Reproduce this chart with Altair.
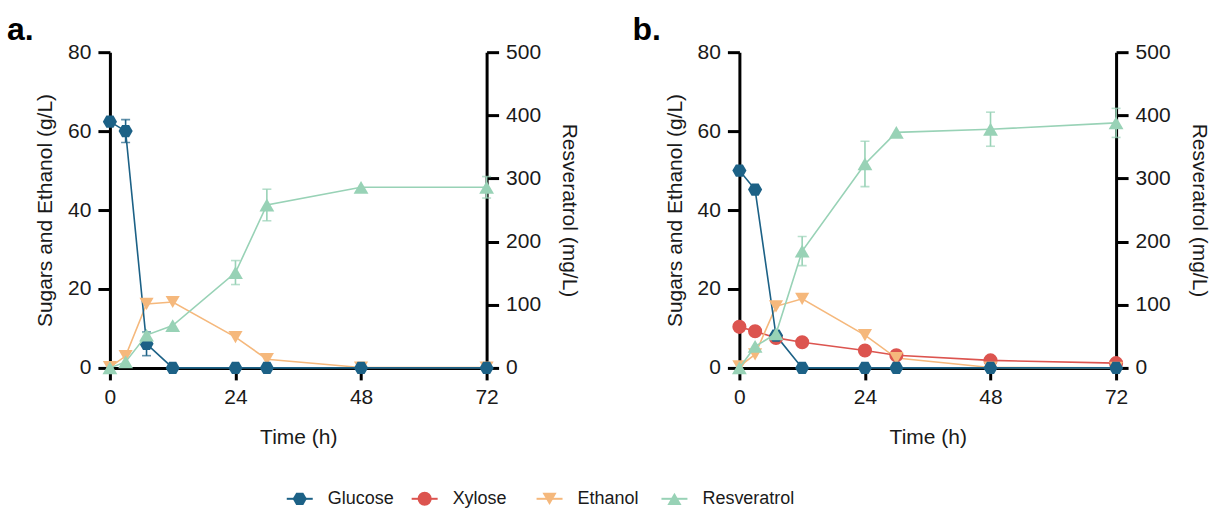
import altair as alt
import pandas as pd

time_h = [0, 3, 7, 12, 24, 30, 48, 72]
series_names = ["Glucose", "Xylose", "Ethanol", "Resveratrol"]
series_colors = ["#1c6186", "#dc544f", "#f5b87c", "#98d2b6"]
HEX = "M-1,0L-0.5,-0.866L0.5,-0.866L1,0L0.5,0.866L-0.5,0.866Z"
series_shapes = [HEX, "circle", "triangle-down", "triangle-up"]

# Panel a
glucose_a = [62.4, 60.0, 6.1, 0, 0, 0, 0, 0]
glucose_a_err = [0, 2.9, 3.0, 0, 0, 0, 0, 0]
ethanol_a = [0.2, 3.0, 16.2, 16.7, 7.8, 2.2, 0.1, 0.1]
ethanol_a_err = [0, 0, 0, 0, 0, 0, 0, 0]
resv_a = [0, 9.5, 52, 67, 151, 258, 286, 286]
resv_a_err = [0, 0, 4, 0, 19, 25, 0, 17]

# Panel b
glucose_b = [50.0, 45.2, 8.2, 0, 0, 0, 0, 0]
glucose_b_err = [0, 0, 0, 0, 0, 0, 0, 0]
xylose_b = [10.4, 9.3, 7.6, 6.5, 4.4, 3.2, 1.9, 1.2]
xylose_b_err = [0, 0, 0, 0, 0, 0, 0, 0]
ethanol_b = [0.4, 3.4, 15.6, 17.5, 8.3, 2.5, 0.1, 0.0]
ethanol_b_err = [0, 0, 0, 0, 0, 0, 0, 0]
resv_b = [0, 34, 54, 185, 323, 373, 378, 388]
resv_b_err = [0, 0, 0, 23, 36, 0, 27, 23]

FONT = "Liberation Sans"
FS = 21
LEG_FS = 18
W, H = 377, 316


def long_df(pairs):
    rows = []
    for name, vals, errs in pairs:
        for t, v, e in zip(time_h, vals, errs):
            rows.append({"time": t, "series": name, "value": v, "lo": v - e, "hi": v + e, "err": e})
    return pd.DataFrame(rows)


color = alt.Color("series:N", scale=alt.Scale(domain=series_names, range=series_colors), legend=None)
shape = alt.Shape("series:N", scale=alt.Scale(domain=series_names, range=series_shapes), legend=None)
xaxis = alt.Axis(values=[0, 24, 48, 72], title="Time (h)", titlePadding=19, labelFlush=False)
xenc = alt.X("time:Q", scale=alt.Scale(domain=[0, 72], nice=False), axis=xaxis)


def group(df, ydom, axis, size):
    base = alt.Chart(df)
    sc = alt.Scale(domain=ydom, nice=False, zero=True)
    line = base.mark_line(strokeWidth=1.6, clip=False).encode(
        x=xenc, y=alt.Y("value:Q", scale=sc, axis=axis), color=color)
    errs = base.transform_filter("datum.err > 0")
    rule = errs.mark_rule(strokeWidth=1.6).encode(
        x=xenc, y=alt.Y("lo:Q", scale=sc, axis=axis), y2="hi:Q", color=color)
    cap_lo = errs.mark_tick(orient="horizontal", size=9, thickness=1.6).encode(
        x=xenc, y=alt.Y("lo:Q", scale=sc, axis=axis), color=color)
    cap_hi = errs.mark_tick(orient="horizontal", size=9, thickness=1.6).encode(
        x=xenc, y=alt.Y("hi:Q", scale=sc, axis=axis), color=color)
    pts = base.mark_point(filled=True, opacity=1, size=size, clip=False).encode(
        x=xenc, y=alt.Y("value:Q", scale=sc, axis=axis), color=color, shape=shape)
    return alt.layer(line, rule, cap_lo, cap_hi, pts)


def panel(label, dx, sugars, resv, resv_err):
    sdf = long_df(sugars)
    rdf = long_df([("Resveratrol", resv, resv_err)])
    left_axis = alt.Axis(values=[0, 20, 40, 60, 80], title="Sugars and Ethanol (g/L)", orient="left",
                         titlePadding=12)
    right_axis = alt.Axis(values=[0, 100, 200, 300, 400, 500], title="Resveratrol (mg/L)", orient="right",
                          titlePadding=18)
    left = group(sdf, [0, 80], left_axis, 200)
    right = group(rdf, [0, 500], right_axis, 220)
    return alt.layer(left, right).resolve_scale(y="independent").properties(
        width=W, height=H,
        title=alt.TitleParams(label, anchor="start", frame="group", fontSize=32, fontWeight="bold",
                              font=FONT, color="black", dx=dx, offset=-6),
    )


pa = panel("a.", -103, [("Ethanol", ethanol_a, ethanol_a_err), ("Glucose", glucose_a, glucose_a_err)],
           resv_a, resv_a_err)
pb = panel("b.", -107, [("Xylose", xylose_b, xylose_b_err), ("Ethanol", ethanol_b, ethanol_b_err),
                        ("Glucose", glucose_b, glucose_b_err)], resv_b, resv_b_err)

top = alt.hconcat(pa, pb, spacing=52)

leg_df = pd.DataFrame({"series": series_names})
lx = alt.X("series:N", scale=alt.Scale(type="point", domain=series_names, range=[190, 565], padding=0),
           axis=None)
leg_base = alt.Chart(leg_df)
leg_rule = leg_base.mark_rule(strokeWidth=2, xOffset=-13, x2Offset=13).encode(
    x=lx, x2="series:N", y=alt.value(10), color=color)
leg_pts = leg_base.mark_point(filled=True, opacity=1, size=200).encode(
    x=lx, y=alt.value(10), color=color, shape=shape)
leg_txt = leg_base.mark_text(align="left", baseline="middle", dx=28, fontSize=LEG_FS, font=FONT,
                             color="#1a1a1a").encode(x=lx, y=alt.value(10), text="series:N")
legend = alt.layer(leg_rule, leg_pts, leg_txt).properties(width=900, height=20)

chart = alt.vconcat(top, legend, spacing=41).properties(
    padding={"left": 7, "top": 14, "right": 5, "bottom": 5}
).configure_view(stroke=None).configure_axis(
    domainColor="black", domainWidth=3, tickColor="black", tickWidth=3, tickSize=12,
    labelFontSize=FS, titleFontSize=FS, labelFont=FONT, titleFont=FONT, titleFontWeight="normal",
    grid=False, labelColor="#1a1a1a", titleColor="#1a1a1a", labelPadding=7,
)

chart.save("out.html", embed_options={"renderer": "svg", "actions": False})
